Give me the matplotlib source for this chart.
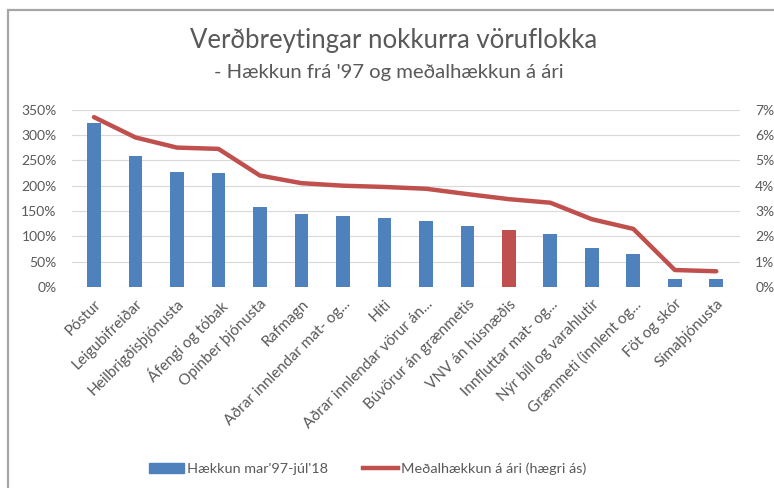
import matplotlib
matplotlib.use("Agg")
import matplotlib.pyplot as plt
from matplotlib.patches import Rectangle
from matplotlib.lines import Line2D
from matplotlib.patches import Patch

plt.rcParams['font.family'] = ['Lato', 'DejaVu Sans']

# Data
categories = ["Póstur", "Leigubifreiðar", "Heilbrigðisþjónusta", "Áfengi og tóbak",
              "Opinber þjónusta", "Rafmagn", "Aðrar innlendar mat- og...", "Hiti",
              "Aðrar innlendar vörur án...", "Búvörur án grænmetis", "VNV án húsnæðis",
              "Innfluttar mat- og...", "Nýr bíll og varahlutir", "Grænmeti (innlent og...",
              "Föt og skór", "Símaþjónusta"]
haekkun = [323, 258, 227, 225, 159, 145, 140, 136, 131, 121, 113, 105, 78, 66, 16, 16]
medal = [6.7, 5.9, 5.5, 5.45, 4.4, 4.1, 4.0, 3.95, 3.88, 3.67, 3.47, 3.33, 2.68, 2.3, 0.68, 0.63]
highlight = "VNV án húsnæðis"

blue = "#4F81BD"
red = "#C0504D"
grey = "#595959"

fig = plt.figure(figsize=(7.74, 4.88), dpi=100)

# frame around the chart
fig.patches.append(Rectangle((8 / 774, -0.1), 1.2, 1 - 9.5 / 488 + 0.1,
                             transform=fig.transFigure, fill=False,
                             edgecolor="#A6A6A6", linewidth=1.6))

ax = fig.add_axes([0.093, 0.4113, 0.863, 0.3643])
x = list(range(len(categories)))
colors = [red if c == highlight else blue for c in categories]
ax.bar(x, haekkun, width=0.33, color=colors, zorder=2)
ax.set_ylim(0, 350)
ax.set_xlim(-0.53, 15.57)
ax.set_yticks(range(0, 351, 50))
ax.set_yticklabels([f"{v}%" for v in range(0, 351, 50)])
ax.grid(axis="y", color="#D9D9D9", linewidth=0.8, zorder=0)
for s in ax.spines.values():
    s.set_visible(False)
ax.tick_params(length=0, labelsize=10, colors=grey, pad=11)
ax.set_xticks(x)
ax.set_xticklabels(categories, rotation=45, ha="right", rotation_mode="anchor",
                   fontsize=11, color=grey)
ax.tick_params(axis="x", pad=7)

ax2 = ax.twinx()
ax2.plot(x, medal, color=red, linewidth=3.2, solid_capstyle="round", zorder=3)
ax2.set_ylim(0, 7)
ax2.set_yticks(range(0, 8))
ax2.set_yticklabels([f"{v}%" for v in range(0, 8)])
for s in ax2.spines.values():
    s.set_visible(False)
ax2.tick_params(length=0, labelsize=10, colors=grey, pad=11)

fig.text(0.508, 0.916, "Verðbreytingar nokkurra vöruflokka", ha="center", va="center",
         fontsize=18.5, color=grey)
fig.text(0.502, 0.852, "- Hækkun frá '97 og meðalhækkun á ári", ha="center", va="center",
         fontsize=14.6, color=grey)

handles = [Patch(color=blue), Line2D([0], [0], color=red, linewidth=3.2)]
fig.legend(handles, ["Hækkun mar'97-júl'18", "Meðalhækkun á ári (hægri ás)"],
           loc="center", bbox_to_anchor=(0.475, 0.04), ncol=2, frameon=False,
           fontsize=10.4, labelcolor=grey, handlelength=2.4, handletextpad=0.25,
           columnspacing=2.4)

fig.savefig("out.png", dpi=100)
